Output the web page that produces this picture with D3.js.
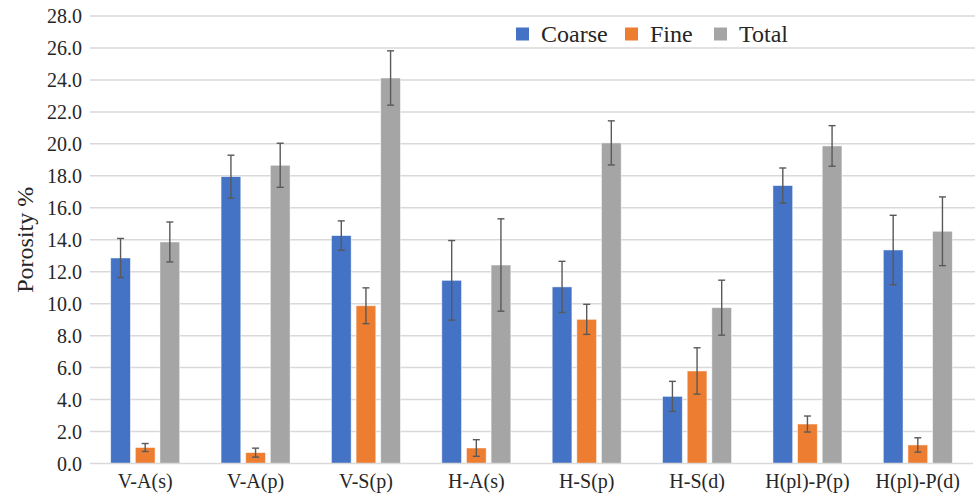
<!DOCTYPE html>
<html>
<head>
<meta charset="utf-8">
<script src="https://cdn.jsdelivr.net/npm/d3@7"></script>
<style>
  html, body { margin: 0; padding: 0; background: #fff; }
  svg { display: block; font-family: "Liberation Serif", "Times New Roman", serif; }
</style>
</head>
<body>
<svg id="chart" width="977" height="494"></svg>
<script>
// Sample categories
const categories = ["V-A(s)", "V-A(p)", "V-S(p)", "H-A(s)", "H-S(p)", "H-S(d)", "H(pl)-P(p)", "H(pl)-P(d)"];
const seriesNames = ["Coarse", "Fine", "Total"];
const seriesColors = ["#4472C4", "#ED7D31", "#A5A5A5"];

// Mean porosity (%) per series
const coarse = [12.86, 17.95, 14.26, 11.46, 11.05, 4.20, 17.39, 13.36];
const fine   = [1.00, 0.68, 9.87, 0.97, 9.02, 5.79, 2.47, 1.16];
const total  = [13.86, 18.66, 24.12, 12.42, 20.06, 9.75, 19.87, 14.53];

// Standard deviations (error bars)
const coarseErr = [1.22, 1.34, 0.92, 2.49, 1.60, 0.94, 1.10, 2.17];
const fineErr   = [0.25, 0.28, 1.12, 0.52, 0.94, 1.45, 0.50, 0.45];
const totalErr  = [1.25, 1.38, 1.70, 2.89, 1.38, 1.72, 1.27, 2.15];

const yTicks = [0, 2, 4, 6, 8, 10, 12, 14, 16, 18, 20, 22, 24, 26, 28];

const values = [coarse, fine, total];
const errors = [coarseErr, fineErr, totalErr];

const svg = d3.select("#chart");
const margin = { left: 90, right: 4, top: 16, bottom: 30.5 };
const W = 977, H = 494;

const x0 = d3.scaleBand()
  .domain(categories)
  .range([margin.left, 973])
  .paddingInner(0.375)
  .paddingOuter(0.1875);

const x1 = d3.scaleBand()
  .domain(seriesNames)
  .range([0, x0.bandwidth()])
  .paddingInner(0.2)
  .paddingOuter(0);

const y = d3.scaleLinear().domain([0, 28]).range([H - margin.bottom, margin.top]);

// Gridlines
svg.append("g")
  .selectAll("line")
  .data(yTicks.filter(d => d > 0))
  .join("line")
  .attr("x1", margin.left)
  .attr("x2", 975)
  .attr("y1", d => y(d))
  .attr("y2", d => y(d))
  .attr("stroke", "#D9D9D9")
  .attr("stroke-width", 1.5);

// Y tick labels
svg.append("g")
  .selectAll("text")
  .data(yTicks)
  .join("text")
  .attr("x", 82)
  .attr("y", d => y(d))
  .attr("dy", "0.35em")
  .attr("text-anchor", "end")
  .attr("font-size", 20)
  .attr("fill", "#262626")
  .text(d => d3.format(".1f")(d));

// Y axis title
svg.append("text")
  .attr("transform", `translate(33,${(y(0) + y(28)) / 2}) rotate(-90)`)
  .attr("text-anchor", "middle")
  .attr("font-size", 24)
  .attr("fill", "#262626")
  .text("Porosity %");

// Bars
const groups = svg.append("g")
  .selectAll("g")
  .data(categories)
  .join("g")
  .attr("transform", d => `translate(${x0(d)},0)`);

groups.each(function (cat, i) {
  const g = d3.select(this);
  seriesNames.forEach((s, k) => {
    const v = values[k][i];
    const e = errors[k][i];
    const bx = x1(s);
    const bw = x1.bandwidth();
    g.append("rect")
      .attr("x", bx)
      .attr("y", y(v))
      .attr("width", bw)
      .attr("height", y(0) - y(v))
      .attr("fill", seriesColors[k])
      .attr("stroke", "#ffffff")
      .attr("stroke-opacity", 0.6)
      .attr("stroke-width", 0.8);
    const cx = bx + bw / 2;
    const eb = g.append("g").attr("stroke", "#595959").attr("stroke-width", 1.4);
    eb.append("line").attr("x1", cx).attr("x2", cx).attr("y1", y(v + e)).attr("y2", y(v - e));
    eb.append("line").attr("x1", cx - 3.5).attr("x2", cx + 3.5).attr("y1", y(v + e)).attr("y2", y(v + e));
    eb.append("line").attr("x1", cx - 3.5).attr("x2", cx + 3.5).attr("y1", y(v - e)).attr("y2", y(v - e));
  });
});

// Baseline
svg.append("line")
  .attr("x1", margin.left)
  .attr("x2", 973)
  .attr("y1", y(0))
  .attr("y2", y(0))
  .attr("stroke", "#D9D9D9")
  .attr("stroke-width", 1.5);

// X labels
svg.append("g")
  .selectAll("text")
  .data(categories)
  .join("text")
  .attr("x", d => x0(d) + x0.bandwidth() / 2)
  .attr("y", 488)
  .attr("text-anchor", "middle")
  .attr("font-size", 20)
  .attr("fill", "#262626")
  .text(d => d);

// Legend
const legendX = [516, 625, 714];
const legend = svg.append("g");
seriesNames.forEach((s, k) => {
  legend.append("rect")
    .attr("x", legendX[k])
    .attr("y", 27.5)
    .attr("width", 13)
    .attr("height", 13)
    .attr("fill", seriesColors[k]);
  legend.append("text")
    .attr("x", legendX[k] + 25)
    .attr("y", 34)
    .attr("dy", "0.35em")
    .attr("font-size", 24)
    .attr("fill", "#262626")
    .text(s);
});
</script>
</body>
</html>
